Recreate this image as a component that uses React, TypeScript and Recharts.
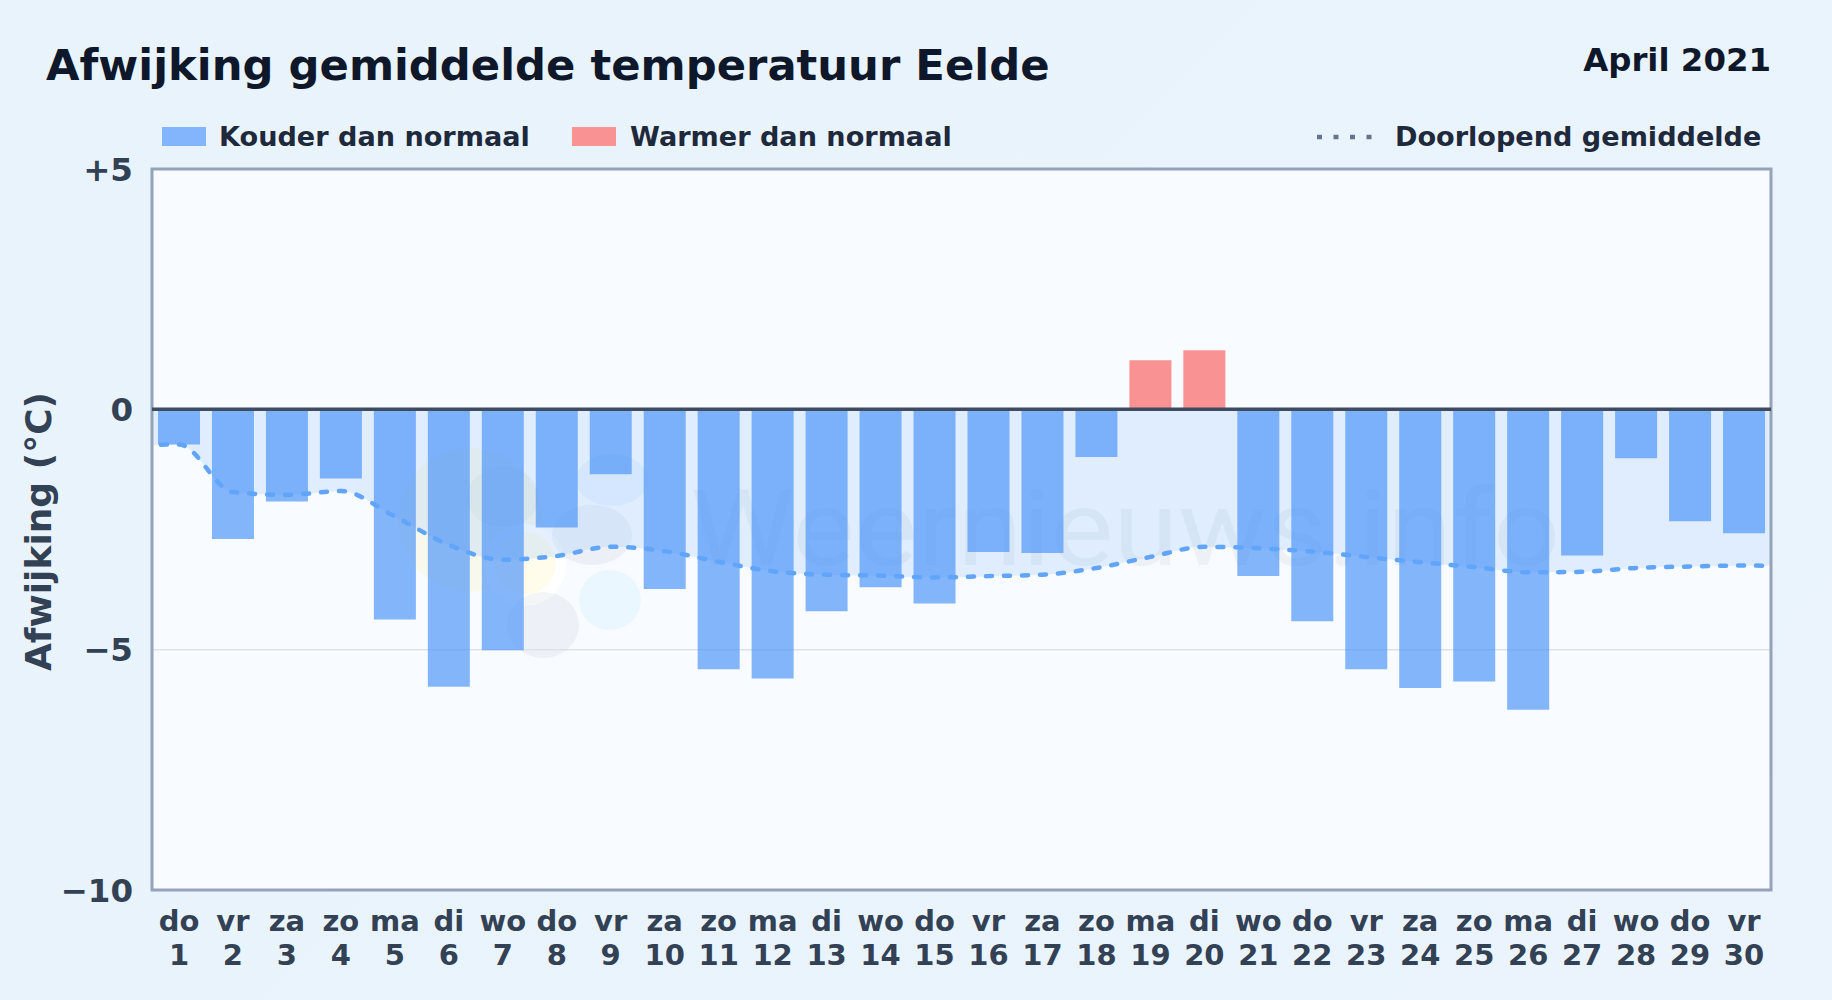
import {
  Area,
  Bar,
  CartesianGrid,
  ComposedChart,
  Line,
  ReferenceArea,
  ReferenceLine,
  XAxis,
  YAxis,
} from "recharts";

const days = [1, 2, 3, 4, 5, 6, 7, 8, 9, 10, 11, 12, 13, 14, 15, 16, 17, 18, 19, 20, 21, 22, 23, 24, 25, 26, 27, 28, 29, 30];
const weekdays = ["do", "vr", "za", "zo", "ma", "di", "wo", "do", "vr", "za", "zo", "ma", "di", "wo", "do", "vr", "za", "zo", "ma", "di", "wo", "do", "vr", "za", "zo", "ma", "di", "wo", "do", "vr"];
const deviation = [-0.73, -2.7, -1.92, -1.44, -4.37, -5.77, -5.01, -2.46, -1.35, -3.74, -5.41, -5.6, -4.2, -3.7, -4.04, -2.97, -2.99, -0.99, 1.02, 1.23, -3.47, -4.41, -5.41, -5.8, -5.66, -6.25, -3.04, -1.02, -2.33, -2.58];
const runningMean = [-0.73, -1.72, -1.78, -1.7, -2.23, -2.82, -3.13, -3.05, -2.86, -2.95, -3.17, -3.37, -3.44, -3.46, -3.5, -3.47, -3.44, -3.3, -3.07, -2.86, -2.89, -2.96, -3.07, -3.18, -3.28, -3.39, -3.38, -3.3, -3.27, -3.25];
const meanBeforeFirst = -0.78;
const meanAfterLast = -3.27;
const yTicks = [5, 0, -5, -10];

const dayRows = days.map((day, i) => ({
  day,
  cold: deviation[i] < 0 ? deviation[i] : null,
  warm: deviation[i] > 0 ? deviation[i] : null,
  mean: runningMean[i],
}));

// the running mean runs on past both edges of the plot and gets clipped there
const rows = [
  { day: 0, cold: null, warm: null, mean: meanBeforeFirst },
  ...dayRows,
  { day: 31, cold: null, warm: null, mean: meanAfterLast },
];

const FONT = "'DejaVu Sans', sans-serif";
const TICK_COLOR = "#334155";

function DayTick({ x, y, payload }: any) {
  return (
    <text x={x} textAnchor="middle" fontFamily={FONT} fontWeight={700} fontSize={29} fill={TICK_COLOR}>
      <tspan x={x} y={y + 33}>{weekdays[payload.value - 1]}</tspan>
      <tspan x={x} y={y + 67}>{payload.value}</tspan>
    </text>
  );
}

function formatY(v: number) {
  if (v > 0) return `+${v}`;
  if (v < 0) return `\u2212${Math.abs(v)}`;
  return "0";
}

function YTitle({ viewBox }: any) {
  const cx = 38;
  const cy = viewBox.y + viewBox.height / 2 + 2;
  return (
    <text
      x={cx}
      y={cy}
      transform={`rotate(-90 ${cx} ${cy})`}
      textAnchor="middle"
      dominantBaseline="central"
      fontFamily={FONT}
      fontWeight={700}
      fontSize={36}
      fill={TICK_COLOR}
    >
      Afwijking (°C)
    </text>
  );
}

function LegendText({ left, children }: any) {
  return (
    <div style={{ position: "absolute", left, top: 120, fontFamily: FONT, fontWeight: 700, fontSize: 27.1, lineHeight: "34px", color: "#1e293b", whiteSpace: "nowrap" }}>
      {children}
    </div>
  );
}

function Swatch({ left, color }: any) {
  return <div style={{ position: "absolute", left, top: 127, width: 44, height: 19, background: color }} />;
}

// faint site logo and name, they sit behind the bars
function Watermark() {
  return (
    <svg width={1832} height={1000} style={{ position: "absolute", left: 0, top: 0 }}>
      <circle cx={470} cy={520} r={72} fill="#fde047" opacity={0.1} />
      <ellipse cx={503} cy={497} rx={36} ry={30} fill="#64748b" opacity={0.06} />
      <circle cx={525} cy={565} r={41} fill="#ffffff" />
      <circle cx={525} cy={563} r={31} fill="#fde047" opacity={0.1} />
      <ellipse cx={592} cy={535} rx={40} ry={30} fill="#64748b" opacity={0.08} />
      <ellipse cx={612} cy={480} rx={36} ry={26} fill="#93c5fd" opacity={0.14} />
      <ellipse cx={543} cy={625} rx={36} ry={33} fill="#64748b" opacity={0.07} />
      <ellipse cx={610} cy={600} rx={31} ry={30} fill="#7dd3fc" opacity={0.1} />
      <text x={690} y={565} fontFamily="Roboto, sans-serif" fontSize={105} textLength={870} lengthAdjust="spacingAndGlyphs" fill="#334155" opacity={0.05}>
        Weernieuws.info
      </text>
    </svg>
  );
}

export default function App() {
  return (
    <div style={{ position: "absolute", left: 0, top: 0, width: 1832, height: 1000, overflow: "hidden", background: "linear-gradient(135deg, #e8f3fc, #ebf4fd)" }}>
      <div style={{ position: "absolute", left: 46, top: 38, fontFamily: FONT, fontWeight: 700, fontSize: 43.3, lineHeight: "54px", color: "#0f172a", whiteSpace: "nowrap" }}>
        Afwijking gemiddelde temperatuur Eelde
      </div>
      <div style={{ position: "absolute", right: 61, top: 40, fontFamily: FONT, fontWeight: 700, fontSize: 32.4, lineHeight: "40px", color: "#0f172a", whiteSpace: "nowrap" }}>
        April 2021
      </div>

      <Swatch left={162} color="#82b5fb" />
      <LegendText left={219}>Kouder dan normaal</LegendText>
      <Swatch left={572} color="#f99393" />
      <LegendText left={630}>Warmer dan normaal</LegendText>
      <svg width={60} height={8} style={{ position: "absolute", left: 1315, top: 133 }}>
        <line x1={2} y1={4} x2={58} y2={4} stroke="#64748b" strokeWidth={4.5} strokeDasharray="5 11.5" />
      </svg>
      <LegendText left={1395}>Doorlopend gemiddelde</LegendText>

      <div style={{ position: "absolute", left: 152, top: 169, width: 1619, height: 721, background: "#f8fbff" }} />
      <Watermark />

      <div style={{ position: "absolute", left: 0, top: 0 }}>
        <ComposedChart
          width={1832}
          height={1000}
          data={rows}
          margin={{ top: 169, right: 61, bottom: 0, left: 92 }}
        >
          <CartesianGrid vertical={false} stroke="#dbe3ea" strokeWidth={1.5} />
          <XAxis
            type="number"
            dataKey="day"
            domain={[0.5, 30.5]}
            ticks={days}
            interval={0}
            tick={<DayTick />}
            tickLine={false}
            axisLine={false}
            height={110}
            allowDataOverflow
          />
          <YAxis
            domain={[-10, 5]}
            ticks={yTicks}
            tickFormatter={formatY}
            tick={{ fontFamily: FONT, fontWeight: 700, fontSize: 32.5, fill: TICK_COLOR }}
            tickLine={false}
            axisLine={false}
            tickMargin={13}
            width={60}
            label={<YTitle />}
          />
          <Area
            type="monotone"
            dataKey="mean"
            baseValue={0}
            fill="#93c5fd"
            fillOpacity={0.25}
            stroke="none"
            isAnimationActive={false}
          />
          <Bar dataKey="cold" stackId="dev" barSize={42} fill="#4b93f8" fillOpacity={0.68} isAnimationActive={false} />
          <Bar dataKey="warm" stackId="dev" barSize={42} fill="#f87171" fillOpacity={0.76} isAnimationActive={false} />
          <ReferenceLine y={0} stroke="#3f4b60" strokeWidth={3.5} />
          <Line
            type="monotone"
            dataKey="mean"
            stroke="#60a5fa"
            strokeWidth={4.5}
            strokeDasharray="6 12"
            strokeLinecap="round"
            dot={false}
            activeDot={false}
            isAnimationActive={false}
          />
          <ReferenceArea x1={0.5} x2={30.5} y1={-10} y2={5} fill="none" stroke="#94a3b8" strokeWidth={3} />
        </ComposedChart>
      </div>
    </div>
  );
}
